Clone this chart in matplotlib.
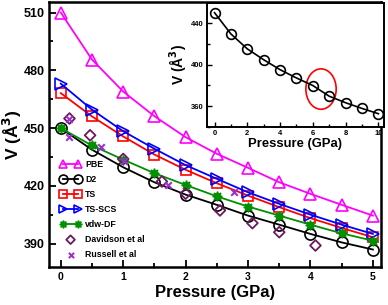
import numpy as np
import matplotlib
matplotlib.use("Agg")
import matplotlib.pyplot as plt
from matplotlib.patches import Ellipse
from matplotlib.ticker import MultipleLocator

plt.rcParams['font.family'] = ['Liberation Sans', 'DejaVu Sans']
plt.rcParams['font.weight'] = 'bold'
plt.rcParams['mathtext.default'] = 'bf'

# main panel data (volume vs pressure)
pressure = [0, 0.5, 1, 1.5, 2, 2.5, 3, 3.5, 4, 4.5, 5]
v_pbe = [510, 485.6, 469, 456.2, 445.3, 436.7, 429.4, 421.9, 415.9, 410.2, 404.6]
v_d2 = [450, 438.8, 429.7, 421.9, 415.5, 410.2, 404.6, 399.9, 395.1, 390.7, 387]
v_ts = [468.2, 456.1, 445.7, 436.3, 428.4, 421.4, 415, 409, 403.3, 398.2, 393.4]
v_tsscs = [473.1, 459.6, 448.4, 439.3, 430.8, 423.7, 416.7, 410.7, 405.1, 399.9, 395.1]
v_vdw = [450, 441, 433.7, 426.6, 420.5, 414.6, 409.3, 404.6, 399.9, 395.4, 391.6]

# experiments
p_davidson = [0.14, 0.47, 1.0, 1.62, 2.0, 2.55, 3.07, 3.5, 4.08]
v_davidson = [455, 446.3, 434, 422.3, 416, 407.3, 400.7, 396, 389.1]
p_russell = [0.13, 0.14, 0.64, 1.01, 1.72, 2.77]
v_russell = [445.3, 455, 440, 433.2, 420.5, 416.7]

# inset (D2 up to 10 GPa)
p_inset = [0, 1, 2, 3, 4, 5, 6, 7, 8, 9, 10]
v_inset = [450.2, 429.7, 415.3, 404.8, 395.2, 387.2, 379.9, 369.6, 363.3, 357.8, 352.7]

fig = plt.figure(figsize=(3.88, 3.05), dpi=100)
ax = fig.add_axes([0.126, 0.125, 0.856, 0.868])

ms = 8
ax.plot(pressure, v_pbe, color='#ff00ff', marker='^', ms=ms, mfc='none', mew=1.2, lw=1.3, label='PBE')
ax.plot(pressure, v_d2, color='black', marker='o', ms=ms, mfc='none', mew=1.2, lw=1.3, label='D2')
ax.plot(pressure, v_ts, color='#ff0000', marker='s', ms=7.5, mfc='none', mew=1.2, lw=1.3, label='TS')
ax.plot(pressure, v_tsscs, color='#0000ff', marker='>', ms=ms, mfc='none', mew=1.2, lw=1.3, label='TS-SCS')
ax.plot(pressure, v_vdw, color='#009000', marker=(8, 1, 0), ms=7, lw=1.3, label='vdw-DF')
ax.scatter(p_davidson, v_davidson, marker='D', s=30, facecolors='none', edgecolors='#6b1a5e', linewidths=1.3, label='Davidson et al', zorder=3)
ax.scatter(p_russell, v_russell, marker='x', s=22, color='#9a30d0', linewidths=1.5, label='Russell et al', zorder=3)

ax.set_xlim(-0.19, 5.13)
ax.set_ylim(378, 515.4)
ax.xaxis.set_major_locator(MultipleLocator(1))
ax.xaxis.set_minor_locator(MultipleLocator(0.5))
ax.yaxis.set_major_locator(MultipleLocator(30))
ax.yaxis.set_minor_locator(MultipleLocator(15))
ax.tick_params(which='both', direction='in', width=1.3)
ax.tick_params(which='major', length=5)
ax.tick_params(which='minor', length=3)
ax.tick_params(axis='x', labelsize=7.5, pad=4)
ax.tick_params(axis='y', labelsize=9, pad=3)
for s in ax.spines.values():
    s.set_linewidth(1.8)

ax.set_xlabel('Pressure (GPa)', fontsize=12, fontweight='bold', labelpad=2)
ax.set_ylabel('V (Å$^3$)', fontsize=12.5, fontweight='bold', labelpad=0)

ax.legend(loc='lower left', bbox_to_anchor=(0.035, 0.03), frameon=False, fontsize=6.3,
          numpoints=2, scatterpoints=1, markerscale=0.8, handlelength=2.3,
          handletextpad=0.5, labelspacing=0.68, borderpad=0, borderaxespad=0)

# inset
ins = fig.add_axes([0.533, 0.584, 0.457, 0.406])
ins.plot(p_inset, v_inset, color='black', marker='o', ms=7, mfc='none', mew=1.2, lw=1.2)
ins.add_patch(Ellipse((6.5, 376.5), 1.85, 39, fill=False, color='red', lw=1.2))
ins.set_xlim(-0.47, 10.35)
ins.set_ylim(340, 459.5)
ins.xaxis.set_major_locator(MultipleLocator(2))
ins.xaxis.set_minor_locator(MultipleLocator(1))
ins.yaxis.set_major_locator(MultipleLocator(40))
ins.yaxis.set_minor_locator(MultipleLocator(20))
ins.tick_params(which='both', direction='in', width=1.0, labelsize=5.5, pad=2)
ins.tick_params(which='major', length=3.5)
ins.tick_params(which='minor', length=2)
for s in ins.spines.values():
    s.set_linewidth(1.4)
ins.set_xlabel('Pressure (GPa)', fontsize=9.4, fontweight='bold', labelpad=1)
ins.set_ylabel('V (Å$^3$)', fontsize=10, fontweight='bold', labelpad=2)

fig.savefig('out.png', dpi=100)
